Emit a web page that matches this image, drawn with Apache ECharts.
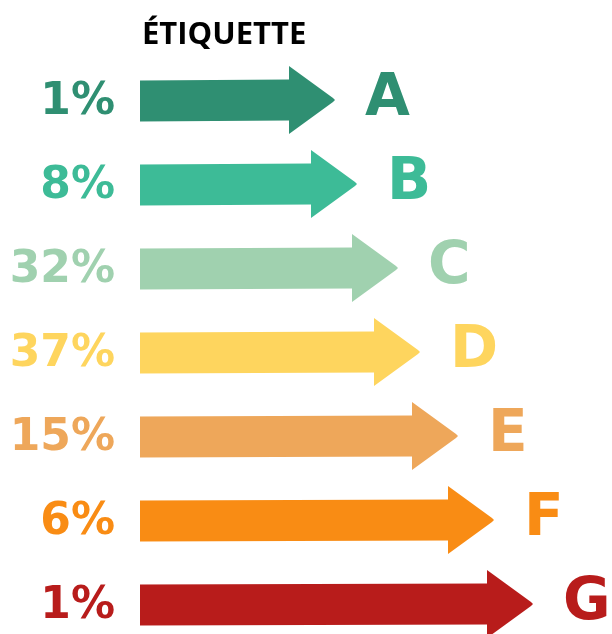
<!DOCTYPE html>
<html><head><meta charset="utf-8">
<script src="https://cdn.jsdelivr.net/npm/echarts@6/dist/echarts.min.js"></script>
<style>html,body{margin:0;padding:0;background:#fff}#c{width:612px;height:634px}</style>
</head><body><div id="c"></div>
<script>
const categories = ['A','B','C','D','E','F','G'];
const percentLabels = ['1%','8%','32%','37%','15%','6%','1%'];
const shares = [1,8,32,37,15,6,1];
const arrowStart = [140,140,140,140,140,140,140];
const arrowEnd = [335,357,398,420,458,494,533];
const colors = ['#2f8f72','#3dbb97','#a0d1af','#fed55e','#eea75a','#f98c14','#b81c1b'];

const data = categories.map((c,i)=>[arrowStart[i], i, arrowEnd[i], shares[i]]);

const chart = echarts.init(document.getElementById('c'));
chart.setOption({
  animation:false,
  title:{text:'ÉTIQUETTE', left:137, top:15,
    textStyle:{fontFamily:'Open Sans', fontWeight:'bold', fontSize:31, color:'#000'}},
  grid:{left:0, right:0, top:58, height:588, containLabel:false, outerBoundsMode:'none'},
  xAxis:{type:'value', min:0, max:612, show:false},
  yAxis:{type:'category', data:categories, inverse:true, show:false},
  series:[{
    type:'custom',
    data:data,
    encode:{x:[0,2], y:1},
    renderItem:function(params, api){
      const i = api.value(1);
      const s = api.coord([api.value(0), i]);
      const e = api.coord([api.value(2), i]);
      const y = s[1];
      const sh = 20.5, hh = 34, hl = 46;
      const col = colors[params.dataIndex];
      const pts = [
        [s[0], y-sh+1],[e[0]-hl, y-sh],[e[0]-hl, y-hh],[e[0]-2, y-2],[e[0], y],[e[0]-2, y+2],
        [e[0]-hl, y+hh],[e[0]-hl, y+sh],[s[0], y+sh+1]
      ];
      return {type:'group', children:[
        {type:'polygon', shape:{points:pts}, style:{fill:col}},
        {type:'text', x:s[0]-25, y:y+3, style:{text:percentLabels[params.dataIndex], fill:col,
          font:'bold 44px "DejaVu Sans"', align:'right', verticalAlign:'middle'}},
        {type:'text', x:e[0]+30, y:y, style:{text:categories[params.dataIndex], fill:col,
          font:'bold 58px "DejaVu Sans"', align:'left', verticalAlign:'middle'}}
      ]};
    }
  }]
});
</script></body></html>
